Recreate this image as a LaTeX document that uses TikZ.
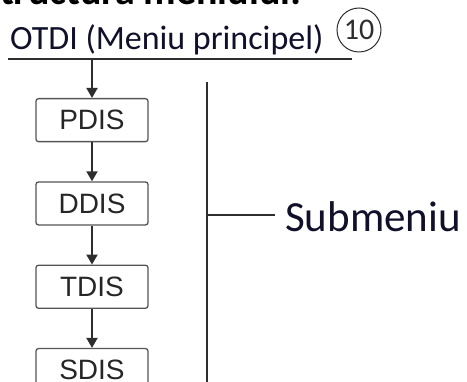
\documentclass[tikz,border=0pt]{standalone}
\usepackage{fontspec}
\setmainfont{Carlito}
\newfontfamily\boxfont{Liberation Sans}
\usetikzlibrary{arrows.meta, positioning}
\definecolor{linegray}{HTML}{2E2E2E}
\definecolor{boxgray}{HTML}{555555}
\definecolor{textnavy}{HTML}{10102A}

\begin{document}
\begin{tikzpicture}[
    x=1pt, y=-1pt,
    node distance=39pt,
    menubox/.style={rectangle, draw=boxgray, line width=1.3pt, rounded corners=2.5pt, minimum width=112pt, minimum height=43pt, inner sep=0pt, font=\boxfont\fontsize{28}{28}\selectfont, text=black!85},
    arrow/.style={-{Triangle[length=10pt, width=11pt]}, line width=1.8pt, draw=linegray},
    rule/.style={line width=1.8pt, draw=linegray},
    label/.style={anchor=base west, inner sep=0pt, text=textnavy}
]
\useasboundingbox (0,0) rectangle (467,382);
\clip (0,0) rectangle (467,382);
% Title (cut off at the top)
\node[label, font=\bfseries\fontsize{40}{40}\selectfont, text=black] (title) at (-19,5) {Structura meniului:};
% Main menu
\node[label, font=\fontsize{34}{34}\selectfont] (otdi) at (10,50) {OTDI (Meniu principel)};
\node[circle, draw=linegray, line width=1pt, minimum size=44pt, inner sep=0pt, font=\fontsize{30}{30}\selectfont, text=linegray] (num) at (359,30) {10};
\coordinate (lineL) at (8,59);
\coordinate (lineR) at (352,59);
\coordinate (lineA) at (92,59);
\draw[rule] (lineL) -- (lineR);
% Submenus
\node[menubox, anchor=north] (pdis) at (92,98) {PDIS};
\node[menubox, below=of pdis] (ddis) {DDIS};
\node[menubox, below=of ddis] (tdis) {TDIS};
\node[menubox, below=of tdis] (sdis) {SDIS};
% Arrows
\draw[arrow] (lineA) -- (pdis);
\draw[arrow] (pdis) -- (ddis);
\draw[arrow] (ddis) -- (tdis);
\draw[arrow] (tdis) -- (sdis);
% Bracket
\coordinate (subtop) at (207,82);
\coordinate (subbot) at (207,390);
\coordinate (subjoin) at (207,215);
\coordinate (subend) at (275,215);
\draw[rule] (subtop) -- (subbot);
\draw[rule] (subjoin) -- (subend);
\node[label, font=\fontsize{43}{43}\selectfont] (sub) at (285,232) {Submeniu};
\end{tikzpicture}
\end{document}
